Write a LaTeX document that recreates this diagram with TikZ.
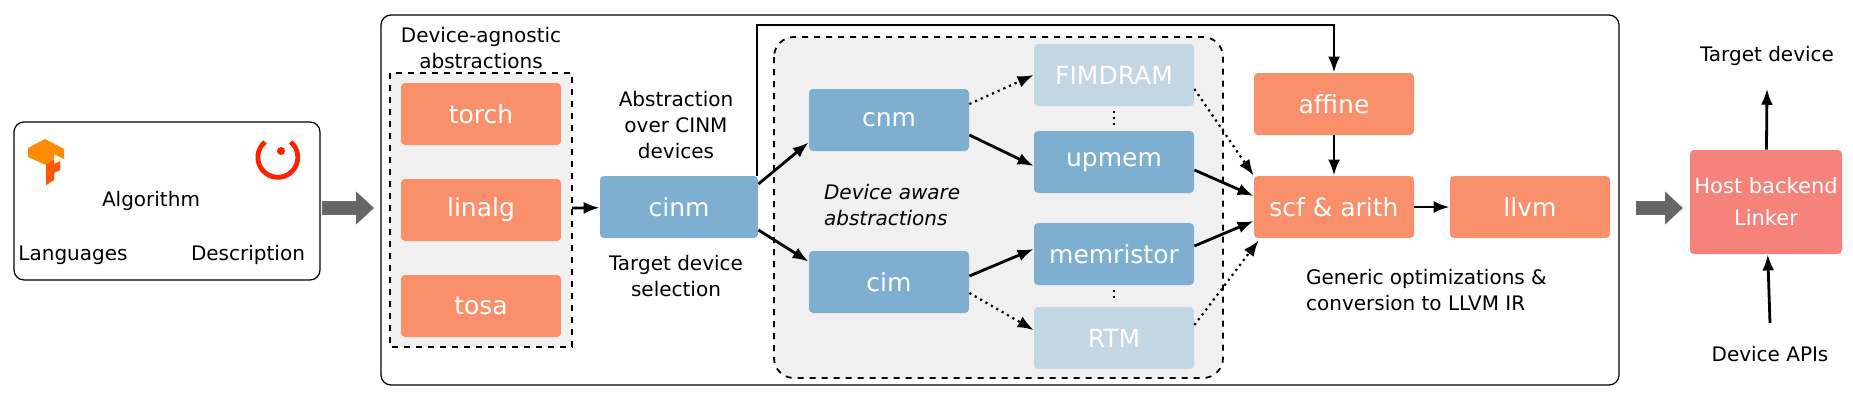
\documentclass[tikz,border=0pt]{standalone}
\usepackage{fontspec}
\setmainfont{DejaVu Sans}
\usetikzlibrary{arrows.meta,calc,positioning}
\definecolor{orangebox}{HTML}{F98F6B}
\definecolor{bluebox}{HTML}{7FAFD0}
\definecolor{lightbox}{HTML}{C3D6E3}
\definecolor{hostbox}{HTML}{F5837B}
\definecolor{panel}{HTML}{F0F0F0}
\tikzset{
    block/.style = {rectangle, rounded corners=2pt, text=white, inner sep=0pt,
        minimum height=31pt, minimum width=80pt, align=center,
        font=\fontsize{12.5}{15}\selectfont},
    ablock/.style = {block, fill=orangebox},
    bblock/.style = {block, fill=bluebox},
    lblock/.style = {block, fill=lightbox},
    label/.style = {align=center, font=\fontsize{10}{13}\selectfont},
    arrow/.style = {draw, line width=1.4pt, -{Latex[length=8pt,width=6pt]}},
    darrow/.style = {draw, line width=1.1pt, dotted, -{Latex[length=8pt,width=6pt]}},
    fat/.style = {draw=black!60, line width=7pt, -{Triangle[length=9pt 0,width=16pt 0]}}
}
\begin{document}
\begin{tikzpicture}[x=0.5pt, y=-0.5pt]
    \useasboundingbox (0,0) rectangle (1853,402);
    % input box
    \draw[rounded corners=5pt, line width=0.6pt] (14,122) rectangle (320,280);
    \fill[orange!90!yellow] (28,148) -- (45,139) -- (64,149) -- (64,159) -- (54,154) -- (54,180) -- (46,185) -- (46,165) -- (28,157) -- cycle;
    \fill[orange!70!red] (46,165) -- (54,160) -- (54,180) -- (46,185) -- cycle;
    \fill[orange!70!red] (54,164) -- (60,161) -- (60,170) -- (54,173) -- cycle;
    \draw[red!75!orange, line width=2.4pt] (265,142) arc (130:410:10pt);
    \fill[red!75!orange] (281,151) circle (2pt);
    \node[label] (algo) at (151,201) {Algorithm};
    \node[label] (lang) at (73,255) {Languages};
    \node[label] (desc) at (248,255) {Description};
    \coordinate (inR) at (322,208);
    \coordinate (mainL) at (374,208);
    \draw[fat] (inR) -- (mainL);
    % main frame
    \draw[rounded corners=5pt, line width=0.6pt] (381,15) rectangle (1619,385);
    % device-agnostic
    \draw[dashed, fill=panel, line width=0.9pt] (390,73) rectangle (572,347);
    \node[label] (agtitle) at (481,48) {Device-agnostic\\abstractions};
    \node[ablock] (torch) at (481,114) {torch};
    \node[ablock] (linalg) at (481,210) {linalg};
    \node[ablock] (tosa) at (481,306) {tosa};
    \coordinate (agR) at (572,208);
    \node[bblock, minimum width=79pt] (cinm) at (679,207) {cinm};
    \draw[arrow] (agR) -- (cinm);
    \node[label] (absover) at (676,125) {Abstraction\\over CINM\\devices};
    \node[label] (tsel) at (676,276) {Target device\\selection};
    % device aware
    \draw[dashed, rounded corners=10pt, fill=panel, line width=0.9pt] (774,37) rectangle (1223,378);
    \node[bblock] (cnm) at (889,120) {cnm};
    \node[bblock] (cim) at (889,282) {cim};
    \node[label, font=\fontsize{10}{13}\selectfont\itshape, align=left, anchor=west] (aware) at (817,205) {Device aware\\abstractions};
    \node[lblock] (fimdram) at (1114,75) {FIMDRAM};
    \node[bblock] (upmem) at (1114,162) {upmem};
    \node[bblock] (memristor) at (1114,254) {memristor};
    \node[lblock] (rtm) at (1114,338) {RTM};
    \draw[dotted, line width=1pt] ([yshift=-2.5pt]fimdram.south) -- ([yshift=2.5pt]upmem.north);
    \draw[dotted, line width=1pt] ([yshift=-2.5pt]memristor.south) -- ([yshift=2.5pt]rtm.north);
    \draw[arrow] ([yshift=11.5pt]cinm.east) -- ([yshift=4.5pt]cnm.south west);
    \draw[arrow] ([yshift=-11.5pt]cinm.east) -- ([yshift=-5.5pt]cim.north west);
    \draw[darrow] ([yshift=8pt]cnm.east) -- (fimdram.west);
    \draw[arrow] ([yshift=-7.5pt]cnm.east) -- ([yshift=-2pt]upmem.west);
    \draw[arrow] ([yshift=3pt]cim.east) -- ([yshift=2.5pt]memristor.west);
    \draw[darrow] ([yshift=-5.5pt]cim.east) -- ([yshift=4pt]rtm.west);
    % generic
    \node[ablock] (affine) at (1334,104) {affine};
    \node[ablock] (scf) at (1334,207) {scf \& arith};
    \node[ablock] (llvm) at (1530,207) {llvm};
    \draw[arrow] (affine) -- (scf);
    \draw[arrow] (scf) -- (llvm);
    \draw[darrow] ([yshift=-7pt]fimdram.east) -- (scf.north west);
    \draw[arrow] ([yshift=-4pt]upmem.east) -- ([yshift=5.5pt]scf.west);
    \draw[arrow] ([yshift=4pt]memristor.east) -- ([yshift=-7pt]scf.west);
    \draw[darrow] ([yshift=6.5pt]rtm.east) -- ([xshift=2.5pt,yshift=-1pt]scf.south west);
    \coordinate (bend) at (757,25);
    \draw[arrow] (cinm.north east -| bend) -- (bend) -| (affine);
    \node[label, align=left, anchor=west] (generic) at (1299,290) {Generic optimizations \&\\conversion to LLVM IR};
    % host
    \coordinate (mainR) at (1636,208);
    \coordinate (hostL) at (1683,208);
    \draw[fat] (mainR) -- (hostL);
    \node[block, fill=hostbox, minimum width=76pt, minimum height=52pt, font=\fontsize{10.5}{16}\selectfont] (host) at (1766,202) {Host backend\\Linker};
    \node[label] (tdev) at (1767,56) {Target device};
    \node[label] (apis) at (1770,354) {Device APIs};
    \draw[arrow] (host) -- ([yshift=-8pt]tdev.south);
    \draw[arrow] ([yshift=8pt]apis.north) -- (host);
\end{tikzpicture}
\end{document}
